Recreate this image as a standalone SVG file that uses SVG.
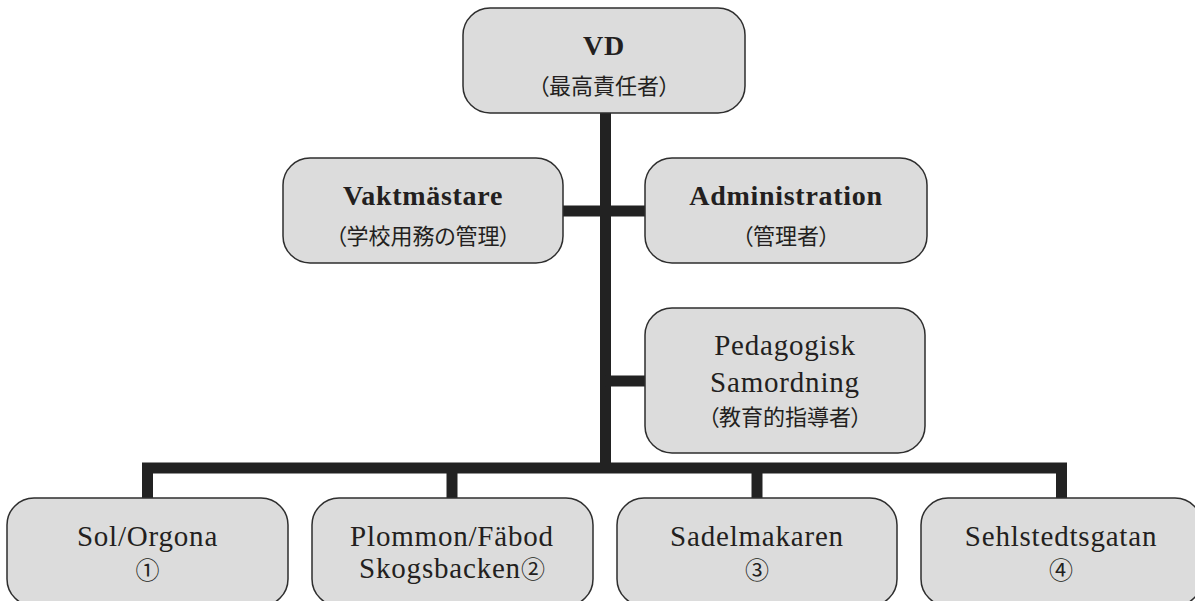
<svg xmlns="http://www.w3.org/2000/svg" width="1195" height="601" viewBox="0 0 1195 601">
<style>
.box{fill:#dcdcdc;stroke:#2e2e2e;stroke-width:1.5}
.ln{stroke:#222;stroke-width:11;fill:none;stroke-linecap:butt;stroke-linejoin:miter}
.t{font-family:"Liberation Serif","DejaVu Serif",serif;fill:#231f20;text-anchor:middle;font-size:29px;letter-spacing:0.8px}
.b{font-weight:bold;font-size:28px;letter-spacing:0.7px}
.j{font-family:"Noto Sans CJK JP","Noto Sans CJK SC",sans-serif;fill:#231f20;text-anchor:middle;font-size:22px;font-feature-settings:"palt"}
.n{font-size:24px;font-feature-settings:normal}
.c{font-family:"Noto Sans CJK JP",sans-serif;font-size:24px;letter-spacing:0}
</style>
<rect width="1195" height="601" fill="#fff"/>
<g id="connectors">
<path class="ln" d="M605.5 113 V468"/>
<path class="ln" d="M563 211 H645"/>
<path class="ln" d="M605.5 381 H645"/>
<path class="ln" d="M147.5 498 V468 H1061.5 V498"/>
<path class="ln" d="M452 468 V498"/>
<path class="ln" d="M757 468 V498"/>
</g>
<g id="vd">
<rect class="box" x="463" y="8" width="282" height="105" rx="27"/>
<text class="t b" x="604" y="55">VD</text>
<text class="j" x="604" y="94">（最高責任者）</text>
</g>
<g id="vaktmastare">
<rect class="box" x="283" y="158" width="280" height="105" rx="27"/>
<text class="t b" x="423" y="205">Vaktmästare</text>
<text class="j" x="423" y="244">（学校用務の管理）</text>
</g>
<g id="administration">
<rect class="box" x="645" y="158" width="282" height="105" rx="27"/>
<text class="t b" x="786" y="205">Administration</text>
<text class="j" x="786" y="244">（管理者）</text>
</g>
<g id="pedagogisk">
<rect class="box" x="645" y="308" width="280" height="145" rx="27"/>
<text class="t" x="785" y="355">Pedagogisk</text>
<text class="t" x="785" y="392">Samordning</text>
<text class="j" x="785" y="425">（教育的指導者）</text>
</g>
<g id="sol">
<rect class="box" x="7" y="498" width="281" height="108" rx="27"/>
<text class="t" x="147.5" y="546">Sol/Orgona</text>
<text class="j n" x="147.5" y="579">①</text>
</g>
<g id="plommon">
<rect class="box" x="312" y="498" width="281" height="108" rx="27"/>
<text class="t" x="452" y="546">Plommon/Fäbod</text>
<text class="t" x="452" y="578">Skogsbacken<tspan class="c">②</tspan></text>
</g>
<g id="sadelmakaren">
<rect class="box" x="617" y="498" width="280" height="108" rx="27"/>
<text class="t" x="757" y="546">Sadelmakaren</text>
<text class="j n" x="757" y="579">③</text>
</g>
<g id="sehlstedtsgatan">
<rect class="box" x="921" y="498" width="281" height="108" rx="27"/>
<text class="t" x="1061" y="546">Sehlstedtsgatan</text>
<text class="j n" x="1061" y="579">④</text>
</g>
</svg>
